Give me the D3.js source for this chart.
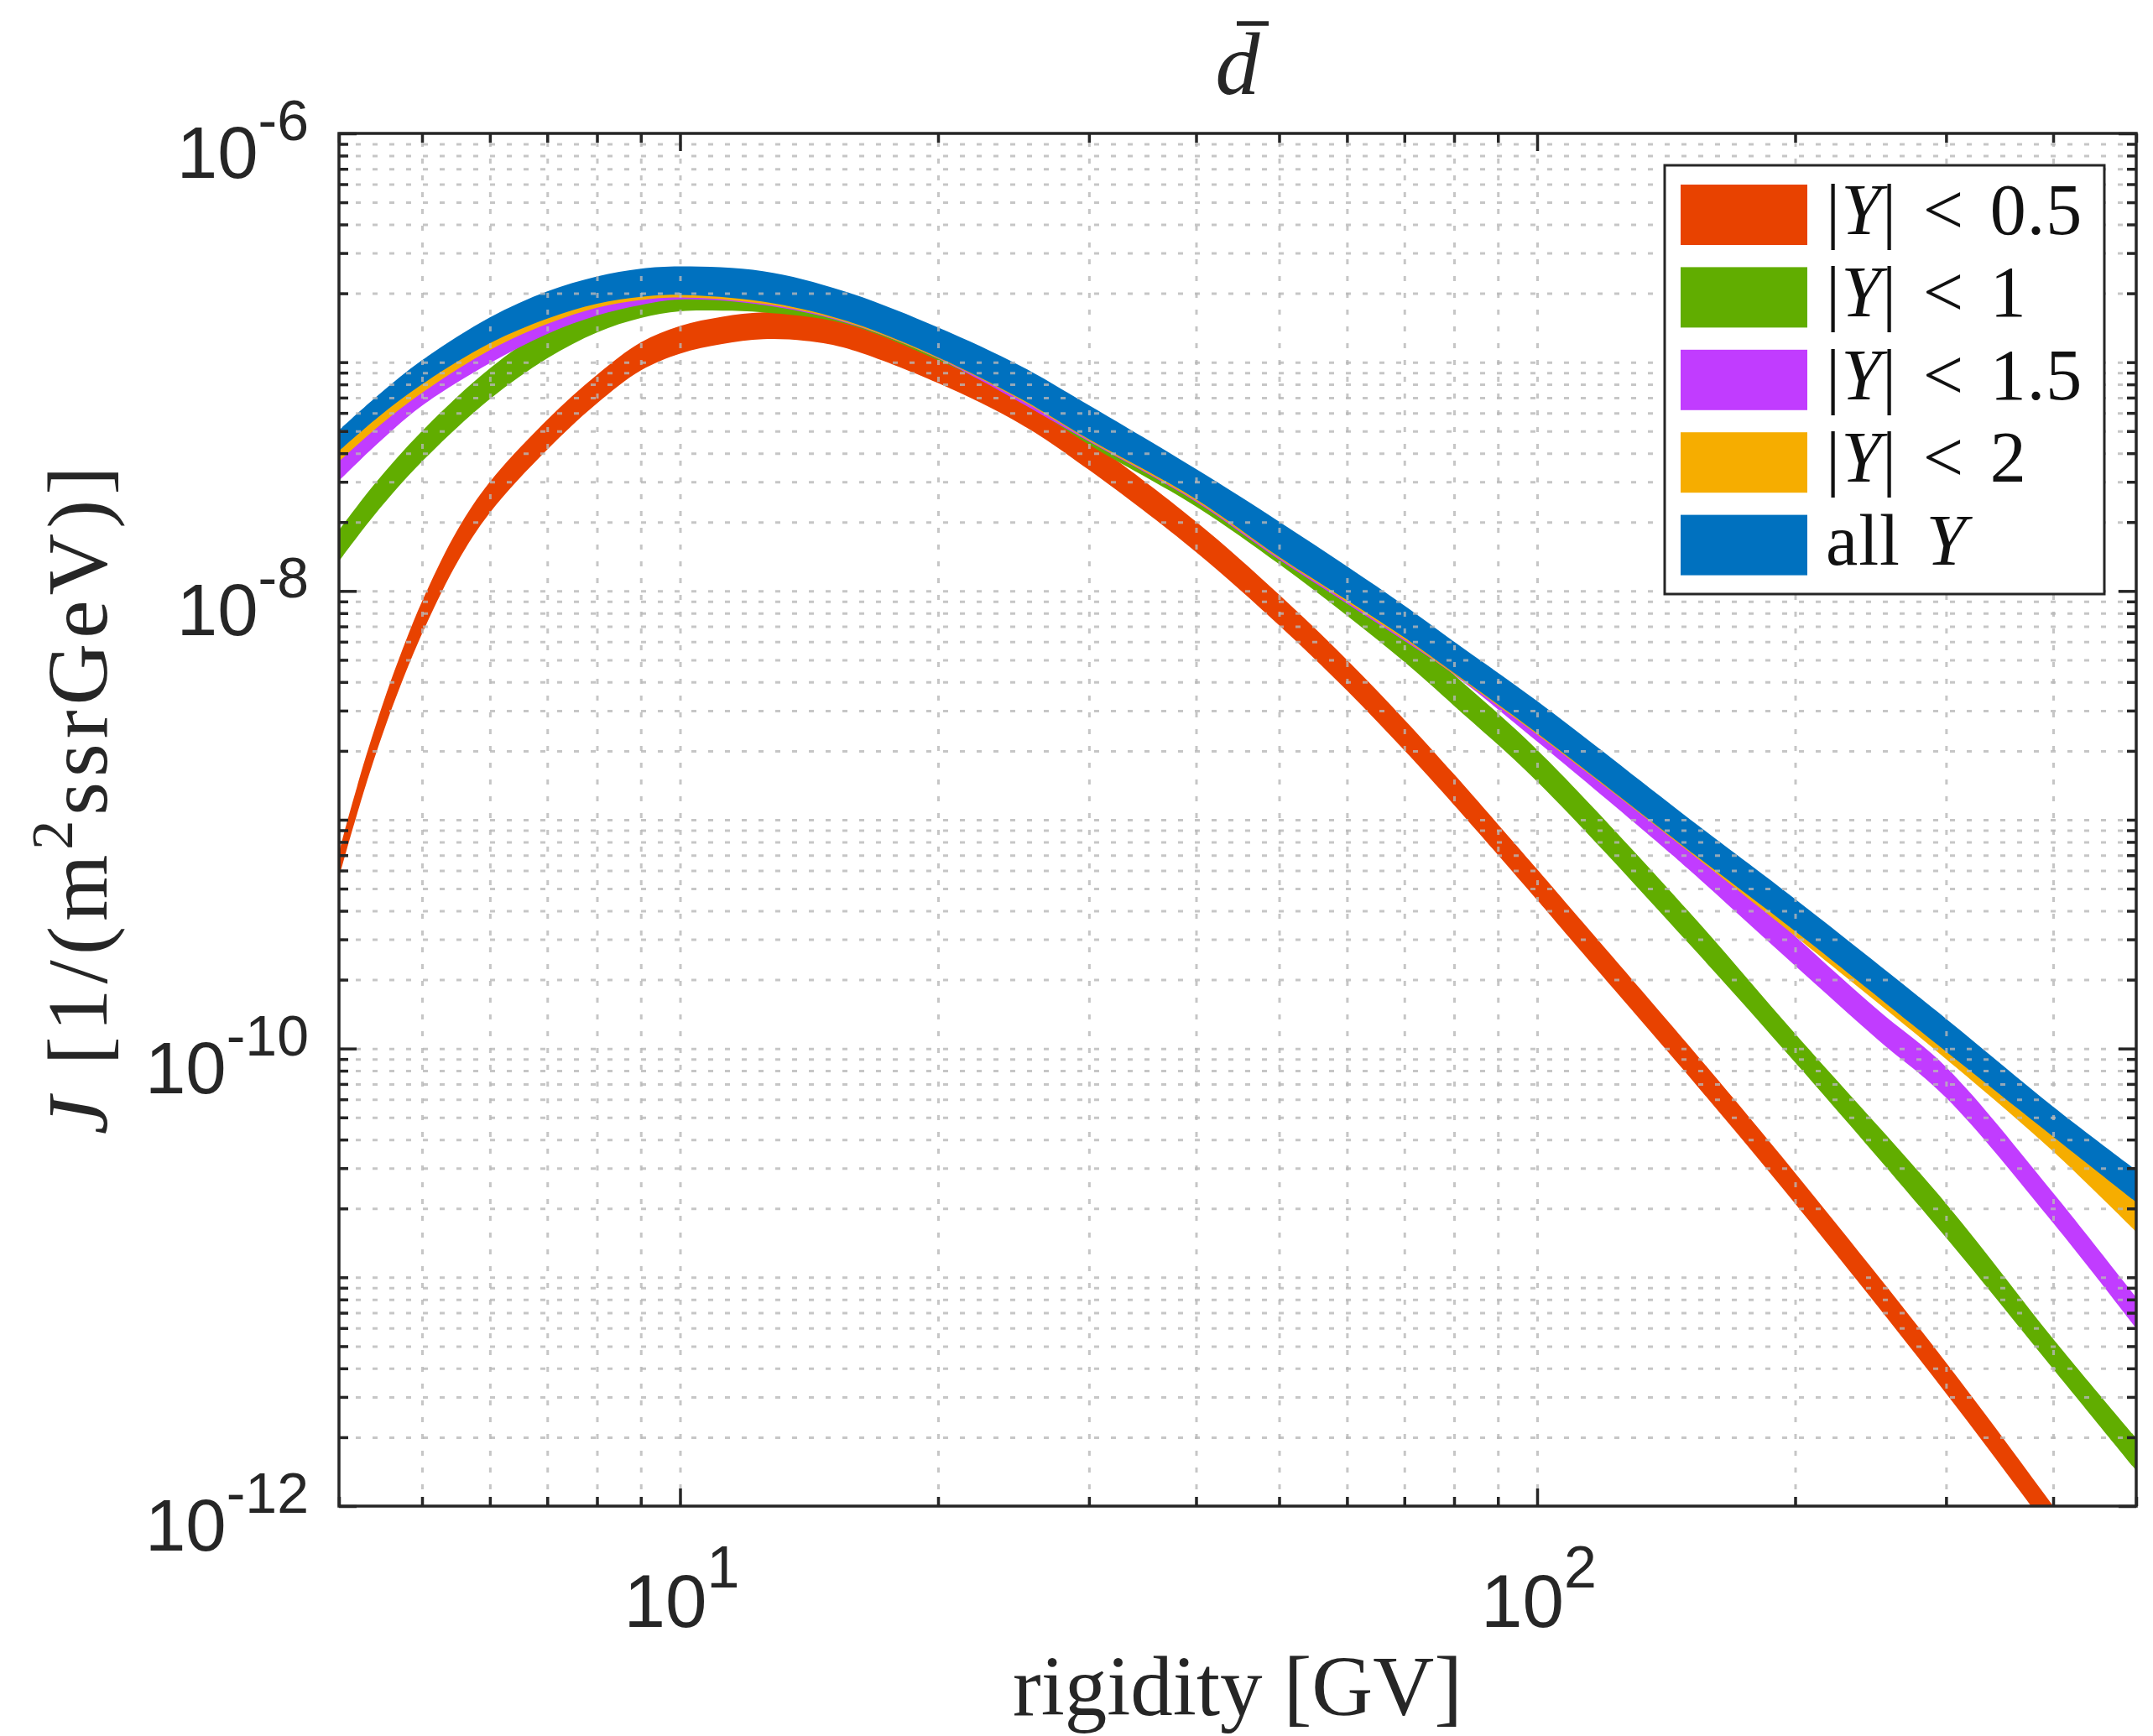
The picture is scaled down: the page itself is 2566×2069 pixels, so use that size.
<!DOCTYPE html>
<html><head><meta charset="utf-8">
<script src="https://cdn.jsdelivr.net/npm/d3@7"></script>
<style>body{margin:0;background:#fff}</style>
</head><body>
<svg id="c" width="2566" height="2069" xmlns="http://www.w3.org/2000/svg"></svg>
<script>
// ---------------- data ----------------
const seriesNames  = ["|Y| < 0.5", "|Y| < 1", "|Y| < 1.5", "|Y| < 2", "all Y"];
const seriesColors = ["#E84200", "#61AD00", "#C13CFF", "#F6AD00", "#0071BF"];

const redX  = [4, 4.1, 4.2, 4.3, 4.5, 4.7, 5, 5.5, 6, 7, 8, 9, 10, 11.2, 12.5, 14, 15.5, 20, 25, 30, 40, 50, 60, 70, 80, 100, 110, 150, 200, 300, 400, 500];
const redHi = [7.2e-10, 1.02e-9, 1.40e-9, 1.89e-9, 3.21e-9, 5.06e-9, 9.0e-9, 1.85e-8, 3.0e-8, 5.6e-8, 8.8e-8, 1.22e-7, 1.44e-7, 1.58e-7, 1.65e-7, 1.63e-7, 1.53e-7, 1.06e-7, 7.1e-8, 4.55e-8, 2.01e-8, 9.64e-9, 5.0e-9, 2.74e-9, 1.58e-9, 6.07e-10, 4.01e-10, 1.04e-10, 2.86e-11, 4.24e-12, 1.0e-12, 3.15e-13];
const redLo = [5.6e-10, 7.8e-10, 1.06e-9, 1.42e-9, 2.38e-9, 3.71e-9, 6.5e-9, 1.34e-8, 2.2e-8, 4.15e-8, 6.6e-8, 9.2e-8, 1.09e-7, 1.2e-7, 1.26e-7, 1.24e-7, 1.16e-7, 8.1e-8, 5.35e-8, 3.38e-8, 1.48e-8, 7.08e-9, 3.67e-9, 2.01e-9, 1.16e-9, 4.46e-10, 2.94e-10, 7.64e-11, 2.1e-11, 3.11e-12, 7.4e-13, 2.31e-13];

const greenX  = [4, 4.4, 5, 6, 7, 8, 9, 10, 11.2, 12.5, 15.5, 20, 25, 30, 40, 50, 60, 70, 80, 100, 150, 200, 300, 400, 500];
const greenHi = [1.84e-8, 2.93e-8, 5.0e-8, 9.4e-8, 1.4e-7, 1.78e-7, 2.0e-7, 2.1e-7, 2.12e-7, 2.1e-7, 1.9e-7, 1.35e-7, 9.0e-8, 5.9e-8, 3.2e-8, 1.8e-8, 1.06e-8, 6.7e-9, 4.3e-9, 2.02e-9, 4.0e-10, 1.16e-10, 2.1e-11, 5.38e-12, 1.98e-12];
const greenLo = [1.35e-8, 2.15e-8, 3.68e-8, 6.9e-8, 1.04e-7, 1.35e-7, 1.56e-7, 1.67e-7, 1.68e-7, 1.65e-7, 1.48e-7, 1.02e-7, 6.75e-8, 4.36e-8, 2.34e-8, 1.31e-8, 7.8e-9, 4.9e-9, 3.15e-9, 1.47e-9, 2.9e-10, 8.7e-11, 1.49e-11, 3.98e-12, 1.43e-12];

const purpleX  = [4, 4.45, 5, 6, 7, 8, 9, 10, 12.5, 15.5, 20, 30, 40, 50, 60, 70, 80, 100, 134, 150, 200, 250, 300, 400, 500];
const purpleHi = [4.4e-8, 6.3e-8, 8.8e-8, 1.38e-7, 1.75e-7, 2.08e-7, 2.27e-7, 2.35e-7, 2.25e-7, 1.88e-7, 1.3e-7, 5.9e-8, 3.1e-8, 1.8e-8, 1.15e-8, 7.9e-9, 5.6e-9, 2.95e-9, 1.18e-9, 8.3e-10, 3.1e-10, 1.47e-10, 8.3e-11, 2.34e-11, 8.15e-12];
const purpleLo = [3.03e-8, 4.45e-8, 6.45e-8, 9.9e-8, 1.33e-7, 1.6e-7, 1.78e-7, 1.88e-7, 1.78e-7, 1.50e-7, 1.035e-7, 4.5e-8, 2.45e-8, 1.37e-8, 8.8e-9, 6.05e-9, 4.3e-9, 2.2e-9, 8.8e-10, 6.1e-10, 2.3e-10, 1.09e-10, 6.1e-11, 1.73e-11, 5.98e-12];

const blueX  = [4, 4.45, 5, 6, 7, 8, 9, 10, 12.5, 15.5, 20, 25, 30, 40, 50, 60, 70, 80, 100, 150, 200, 300, 400, 500];
const orangeHi = [4.8e-8, 6.9e-8, 9.7e-8, 1.5e-7, 1.95e-7, 2.28e-7, 2.46e-7, 2.53e-7, 2.42e-7, 1.98e-7, 1.37e-7, 9.3e-8, 6.25e-8, 3.3e-8, 1.94e-8, 1.24e-8, 8.35e-9, 5.8e-9, 3.2e-9, 9.9e-10, 4.35e-10, 1.3e-10, 5.35e-11, 2.8e-11];
const orangeLo = [3.68e-8, 5.25e-8, 7.35e-8, 1.13e-7, 1.47e-7, 1.73e-7, 1.87e-7, 1.92e-7, 1.8e-7, 1.51e-7, 1.04e-7, 6.82e-8, 4.55e-8, 2.48e-8, 1.39e-8, 8.95e-9, 6.15e-9, 4.33e-9, 2.36e-9, 7.3e-10, 3.1e-10, 9.0e-11, 3.55e-11, 1.58e-11];
const blueHi = [5.04e-8, 7.2e-8, 1.02e-7, 1.57e-7, 2.04e-7, 2.37e-7, 2.56e-7, 2.62e-7, 2.5e-7, 2.05e-7, 1.42e-7, 9.6e-8, 6.48e-8, 3.41e-8, 2.01e-8, 1.28e-8, 8.63e-9, 6.0e-9, 3.3e-9, 1.02e-9, 4.5e-10, 1.35e-10, 5.57e-11, 2.94e-11];
const blueLo = [4.09e-8, 5.77e-8, 8.0e-8, 1.21e-7, 1.55e-7, 1.8e-7, 1.93e-7, 1.97e-7, 1.84e-7, 1.53e-7, 1.05e-7, 6.9e-8, 4.6e-8, 2.52e-8, 1.41e-8, 9.12e-9, 6.26e-9, 4.38e-9, 2.39e-9, 7.4e-10, 3.26e-10, 9.7e-11, 4.12e-11, 2.13e-11];

const xTickVals = [10, 100];
const xTickExps = ["1", "2"];
const yTickVals = [1e-6, 1e-8, 1e-10, 1e-12];
const yTickExps = ["-6", "-8", "-10", "-12"];

// ---------------- layout ----------------
const L = 404, R = 2546, T = 159, B = 1795;
const SANS = "'Liberation Sans', Arial, Helvetica, sans-serif";
const SERIF = "'Liberation Serif', 'Times New Roman', serif";
const INK = "#262626";

const svg = d3.select("#c");
svg.append("rect").attr("width", 2566).attr("height", 2069).attr("fill", "#fff");

const x = d3.scaleLog().domain([4, 500]).range([L, R]);
const y = d3.scaleLog().domain([1e-12, 1e-6]).range([B, T]);

svg.append("defs").append("clipPath").attr("id", "plotclip")
  .append("rect").attr("x", L).attr("y", T).attr("width", R - L).attr("height", B - T);

const bands = [
  {xs: redX, hi: redHi, lo: redLo},
  {xs: greenX, hi: greenHi, lo: greenLo},
  {xs: purpleX, hi: purpleHi, lo: purpleLo},
  {xs: blueX, hi: orangeHi, lo: orangeLo},
  {xs: blueX, hi: blueHi, lo: blueLo}
];

const area = d3.area()
  .x(d => x(d[0])).y0(d => y(d[2])).y1(d => y(d[1]))
  .curve(d3.curveCatmullRom.alpha(0.5));

const gBands = svg.append("g").attr("clip-path", "url(#plotclip)");
bands.forEach((b, i) => {
  const pts = b.xs.map((xv, k) => [xv, b.hi[k], b.lo[k]]);
  gBands.append("path").attr("d", area(pts)).attr("fill", seriesColors[i]).attr("stroke", "none");
});

// ---------------- grid (drawn over the bands) ----------------
const xAll = x.ticks().filter(v => v > 4.001 && v < 499);
const yAll = y.ticks().filter(v => v > 1.001e-12 && v < 0.999e-6);

function styleGrid(g) {
  g.select(".domain").remove();
  g.selectAll("line").attr("stroke", "#b8b8b8").attr("stroke-opacity", 0.8)
    .attr("stroke-width", 3).attr("stroke-dasharray", "6,14");
}
svg.append("g").attr("transform", `translate(0,${B})`)
  .call(d3.axisBottom(x).tickValues(xAll).tickSize(-(B - T)).tickFormat(""))
  .call(styleGrid);
svg.append("g").attr("transform", `translate(${L},0)`)
  .call(d3.axisLeft(y).tickValues(yAll).tickSize(-(R - L)).tickFormat(""))
  .call(styleGrid);

// ---------------- ticks ----------------
const isMajorX = v => xTickVals.some(t => Math.abs(t - v) / t < 1e-6);
const isMajorY = v => yTickVals.some(t => Math.abs(t - v) / t < 1e-6);
const xMinor = x.ticks().filter(v => !isMajorX(v));
const yMinor = y.ticks().filter(v => !isMajorY(v));

function styleTicks(g) {
  g.select(".domain").remove();
  g.selectAll("line").attr("stroke", INK).attr("stroke-width", 3.5);
}
const MAJ = 21, MIN = 11;
[[d3.axisBottom, B], [d3.axisTop, T]].forEach(([ax, pos]) => {
  svg.append("g").attr("transform", `translate(0,${pos})`)
    .call(ax(x).tickValues(xMinor).tickSize(-MIN).tickFormat("")).call(styleTicks);
  svg.append("g").attr("transform", `translate(0,${pos})`)
    .call(ax(x).tickValues(xTickVals).tickSize(-MAJ).tickFormat("")).call(styleTicks);
});
[[d3.axisLeft, L], [d3.axisRight, R]].forEach(([ax, pos]) => {
  svg.append("g").attr("transform", `translate(${pos},0)`)
    .call(ax(y).tickValues(yMinor).tickSize(-MIN).tickFormat("")).call(styleTicks);
  svg.append("g").attr("transform", `translate(${pos},0)`)
    .call(ax(y).tickValues(yTickVals).tickSize(-MAJ).tickFormat("")).call(styleTicks);
});

// axes box
svg.append("rect").attr("x", L).attr("y", T).attr("width", R - L).attr("height", B - T)
  .attr("fill", "none").attr("stroke", INK).attr("stroke-width", 3.5);

// ---------------- tick labels ----------------
const tl = svg.append("g").attr("font-family", SANS).attr("fill", INK);
yTickVals.forEach((v, i) => {
  const t = tl.append("text").attr("x", L - 36).attr("y", y(v) + 53)
    .attr("text-anchor", "end").attr("font-size", 87);
  t.append("tspan").text("10");
  t.append("tspan").attr("dy", -45).attr("font-size", 68).text(yTickExps[i]);
});
xTickVals.forEach((v, i) => {
  const t = tl.append("text").attr("x", x(v) + 2).attr("y", B + 144)
    .attr("text-anchor", "middle").attr("font-size", 89);
  t.append("tspan").text("10");
  t.append("tspan").attr("dy", -47).attr("font-size", 70).text(xTickExps[i]);
});

// ---------------- axis labels & title ----------------
svg.append("text").attr("x", (L + R) / 2).attr("y", 2044)
  .attr("text-anchor", "middle").attr("font-family", SERIF).attr("font-size", 101)
  .attr("fill", INK).text("rigidity [GV]");

const ylab = svg.append("text").attr("transform", `translate(127,${(T + B) / 2 - 26}) rotate(-90)`)
  .attr("text-anchor", "middle").attr("font-family", SERIF).attr("font-size", 102)
  .attr("letter-spacing", 6).attr("fill", INK);
ylab.append("tspan").attr("font-style", "italic").text("J");
ylab.append("tspan").text(" [1/(m");
ylab.append("tspan").attr("font-size", 70).attr("dy", -41).text("2");
ylab.append("tspan").attr("dy", 41).text("ssrGeV)]");

svg.append("text").attr("x", 1475).attr("y", 112).attr("text-anchor", "middle")
  .attr("font-family", SERIF).attr("font-style", "italic").attr("font-size", 106)
  .attr("fill", INK).text("d");
svg.append("line").attr("x1", 1474).attr("x2", 1512).attr("y1", 28).attr("y2", 28)
  .attr("stroke", INK).attr("stroke-width", 5.5);

// ---------------- legend ----------------
const LX = 1984, LY = 197, LW = 524, LH = 511;
const lg = svg.append("g");
lg.append("rect").attr("x", LX).attr("y", LY).attr("width", LW).attr("height", LH)
  .attr("fill", "#fff").attr("stroke", INK).attr("stroke-width", 3);
seriesNames.forEach((name, i) => {
  const cy = LY + 59 + i * 98.4;
  lg.append("rect").attr("x", LX + 19).attr("y", cy - 36).attr("width", 151).attr("height", 72)
    .attr("fill", seriesColors[i]);
  const t = lg.append("text").attr("x", LX + 192).attr("y", cy + 23)
    .attr("font-family", SERIF).attr("font-size", 86).attr("word-spacing", 8)
    .attr("letter-spacing", 1).attr("fill", "#111");
  const parts = name.split("Y");
  t.append("tspan").text(parts[0]);
  t.append("tspan").attr("font-style", "italic").text("Y");
  t.append("tspan").text(parts[1]);
});
</script>
</body></html>
